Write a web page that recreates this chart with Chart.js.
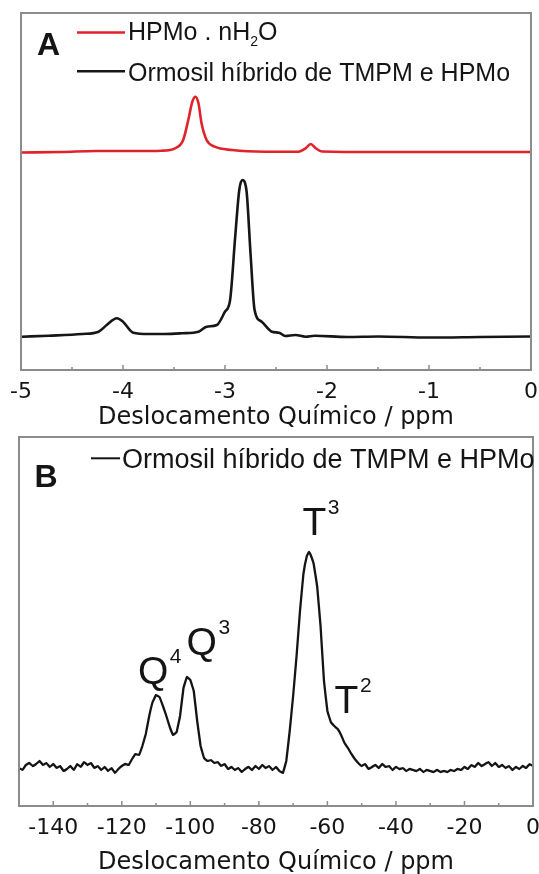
<!DOCTYPE html>
<html><head><meta charset="utf-8">
<script src="https://cdn.jsdelivr.net/npm/chart.js@4.4.1/dist/chart.umd.min.js"></script>
<style>
html,body{margin:0;padding:0;background:#fff;overflow:hidden;width:539px;height:874px;}
#c1{position:absolute;left:0;top:0;}
#c2{position:absolute;left:0;top:434px;}
</style></head><body>
<canvas id="c1" width="539" height="434"></canvas>
<canvas id="c2" width="539" height="444"></canvas>
<script>
// ---------- Panel A data (1H NMR, ppm vs arbitrary intensity) ----------
const redShift = [-5.00,-4.60,-4.27,-3.90,-3.62,-3.49,-3.41,-3.36,-3.32,-3.29,-3.26,-3.23,-3.18,-3.10,-2.93,-2.61,-2.28,-2.21,-2.16,-2.11,-2.05,-1.50,-1.00,-0.50,0.00];
const redIntensity = [217.5,218,219,219,219.3,221.7,230,250,268.3,273.3,266.7,246.7,230,223.3,220,218.3,218.3,221.7,226,221.7,218.5,218,218,218,218];
const blackShift = [-4.99,-4.73,-4.40,-4.24,-4.16,-4.06,-4.00,-3.90,-3.75,-3.59,-3.42,-3.26,-3.18,-3.08,-3.00,-2.95,-2.90,-2.86,-2.83,-2.79,-2.75,-2.71,-2.64,-2.54,-2.47,-2.41,-2.31,-2.21,-2.12,-1.80,-1.50,-1.00,-0.50,0.00];
const blackIntensity = [33.3,34.3,36,38.3,45,51.7,48.3,37.3,36,36,36.7,38.3,43.3,45,58.3,70,133.3,180,190,180,117,60,48.3,38.3,37.3,34,35,33.3,34.3,33,33.5,32.5,33,33.5];
const topTicks = [-5,-4,-3,-2,-1,0];
const topMinor = [-4.5,-3.5,-2.5,-1.5,-0.5];

// ---------- Panel B data (29Si NMR) ----------
const siShift = [-150,-149,-148,-147,-146,-145,-144,-143,-142,-141,-140,-139,-138,-137,-136,-135,-134,-133,-132,-131,-130,-129,-128,-127,-126,-125,-124,-123,-122,-121,-120,-119,-118,-117,-116,-115,-114,-113,-112,-111,-110,-109,-108,-107,-106,-105,-104,-103,-102,-101,-100,-99,-98,-97,-96,-95,-94,-93,-92,-91,-90,-89,-88,-87,-86,-85,-84,-83,-82,-81,-80,-79,-78,-77,-76,-75,-74,-73,-72,-71,-70,-69,-68,-67,-66,-65.4,-65,-64,-63,-62,-61,-60,-59,-58,-57,-56,-55,-54,-53,-52,-51,-50,-49,-48,-47,-46,-45,-44,-43,-42,-41,-40,-39,-38,-37,-36,-35,-34,-33,-32,-31,-30,-29,-28,-27,-26,-25,-24,-23,-22,-21,-20,-19,-18,-17,-16,-15,-14,-13,-12,-11,-10,-9,-8,-7,-6,-5,-4,-3,-2,-1,0];
const siIntensity = [38,36,41,43,40,42,45,41,43,39,42,38,40,35,37,40,36,42,39,44,41,43,38,40,36,39,35,38,33,37,40,42,41,47,52,51,60,72,90,104,111,109,100,90,79,71,74,90,118,129,126,115,85,60,48,45,46,43,44,40,42,37,39,36,38,34,37,39,36,40,37,41,38,40,36,39,35,33,45,75,110,150,195,232,250,254,252,242,220,180,125,95,84,80,77,71,63,58,52,47,43,40,42,37,39,41,38,42,39,40,36,39,37,38,35,37,36,35,37,34,36,35,34,36,34,35,34,36,35,37,36,39,37,41,39,43,40,42,44,40,43,39,41,38,40,36,39,37,40,38,42,40];
const botTicks = [-140,-120,-100,-80,-60,-40,-20,0];
const botMinor = [-130,-110,-90,-70,-50,-30,-10];

// Peak annotations (anchored in data space: shift, intensity)
const annoMain = ['Q','Q','T','T'];
const annoSup = ['4','3','3','2'];
const annoShift = [-115.3,-101.1,-67.3,-57.9];
const annoLevel = [122,151,271,93];

const AXIS_TITLE = 'Deslocamento Químico / ppm';
const TEXT = '#151515';
const FRAME = '#8c8c8c';
const SANS = '"Liberation Sans", Arial, sans-serif';

function pts(xs, ys){ return xs.map((x,i)=>({x:x, y:ys[i]})); }

function framePlugin(major, minor){
  return {
    id:'frameTicks',
    afterDatasetsDraw(chart){
      const {ctx, chartArea:a, scales:{x}} = chart;
      ctx.save();
      ctx.strokeStyle = FRAME; ctx.lineWidth = 2;
      ctx.strokeRect(a.left, a.top, a.right-a.left, a.bottom-a.top);
      ctx.lineWidth = 1.5;
      ctx.beginPath();
      major.forEach(v=>{const p=x.getPixelForValue(v); ctx.moveTo(p,a.bottom); ctx.lineTo(p,a.bottom-5);});
      minor.forEach(v=>{const p=x.getPixelForValue(v); ctx.moveTo(p,a.bottom); ctx.lineTo(p,a.bottom-3);});
      ctx.stroke();
      ctx.restore();
    }
  };
}

function xAxis(min, max, ticks, height, titlePad){
  return {
    type:'linear', min:min, max:max,
    grid:{display:false, drawTicks:false},
    border:{display:false},
    afterBuildTicks(s){ s.ticks = ticks.map(v=>({value:v})); },
    afterFit(s){ s.height = height; s.paddingLeft = 0; s.paddingRight = 0; },
    ticks:{autoSkip:false, maxRotation:0, padding:9, color:TEXT,
      font:{family:'"DejaVu Sans", sans-serif', size:22},
      callback:(v)=>String(v)},
    title:{display:true, text:AXIS_TITLE, color:TEXT,
      font:{family:'"DejaVu Sans", sans-serif', size:24},
      padding:{top:0,bottom:titlePad}}
  };
}

Chart.defaults.animation = false;
Chart.defaults.plugins.legend.display = false;
Chart.defaults.plugins.tooltip.enabled = false;

// ---------- Panel A ----------
const panelA = {
  id:'panelA',
  afterDraw(chart){
    const {ctx, chartArea:a} = chart;
    const ds = chart.data.datasets;
    ctx.save();
    ctx.fillStyle = TEXT;
    ctx.font = 'bold 32px ' + SANS;
    ctx.textBaseline = 'alphabetic';
    ctx.fillText('A', a.left+16, a.top+41.7);
    ctx.lineWidth = 2.4;
    ctx.strokeStyle = ds[0].borderColor;
    ctx.beginPath(); ctx.moveTo(a.left+56, a.top+19.5); ctx.lineTo(a.left+104, a.top+19.5); ctx.stroke();
    ctx.font = '25px ' + SANS;
    let tx = a.left+107, ty = a.top+27.4;
    const parts = ds[0].label.split('₂');
    ctx.fillText(parts[0], tx, ty); tx += ctx.measureText(parts[0]).width;
    ctx.font = '14px ' + SANS; ctx.fillText('2', tx, ty+6); tx += ctx.measureText('2').width;
    ctx.font = '25px ' + SANS; ctx.fillText(parts[1], tx, ty);
    ctx.strokeStyle = ds[1].borderColor;
    ctx.beginPath(); ctx.moveTo(a.left+56, a.top+58.2); ctx.lineTo(a.left+104, a.top+58.2); ctx.stroke();
    ctx.fillText(ds[1].label, a.left+107, a.top+67.5);
    ctx.restore();
  }
};

new Chart(document.getElementById('c1'), {
  type:'line',
  data:{datasets:[
    {label:'HPMo . nH₂O', data:pts(redShift, redIntensity), borderColor:'#e0232b', borderWidth:2.6, pointRadius:0, cubicInterpolationMode:'monotone'},
    {label:'Ormosil híbrido de TMPM e HPMo', data:pts(blackShift, blackIntensity), borderColor:'#161616', borderWidth:2.6, pointRadius:0, cubicInterpolationMode:'monotone'}
  ]},
  options:{
    responsive:false, devicePixelRatio:1,
    layout:{padding:{top:13, left:21, right:8, bottom:0}},
    scales:{
      x: xAxis(-5, 0, topTicks, 64, 1.6),
      y: {type:'linear', min:0, max:357, display:false}
    }
  },
  plugins:[framePlugin(topTicks, topMinor), panelA]
});

// ---------- Panel B ----------
const panelB = {
  id:'panelB',
  afterDraw(chart){
    const {ctx, chartArea:a, scales:{x,y}} = chart;
    const ds = chart.data.datasets;
    ctx.save();
    ctx.fillStyle = TEXT;
    ctx.textBaseline = 'alphabetic';
    ctx.font = 'bold 32px ' + SANS;
    ctx.fillText('B', a.left+15.4, a.top+49.7);
    ctx.strokeStyle = ds[0].borderColor; ctx.lineWidth = 2;
    ctx.beginPath(); ctx.moveTo(a.left+72, a.top+21.3); ctx.lineTo(a.left+101, a.top+21.3); ctx.stroke();
    ctx.font = '27px ' + SANS;
    ctx.fillText(ds[0].label, a.left+103, a.top+31.3);
    annoMain.forEach((m,i)=>{
      const px = x.getPixelForValue(annoShift[i]);
      const py = y.getPixelForValue(annoLevel[i]);
      ctx.font = '39px ' + SANS;
      ctx.fillText(m, px, py);
      const w = ctx.measureText(m).width;
      ctx.font = '21px ' + SANS;
      ctx.fillText(annoSup[i], px + w + 1.5, py - 21);
    });
    ctx.restore();
  }
};

new Chart(document.getElementById('c2'), {
  type:'line',
  data:{datasets:[
    {label:'Ormosil híbrido de TMPM e HPMo', data:pts(siShift, siIntensity), borderColor:'#141414', borderWidth:2.3, pointRadius:0, tension:0.05}
  ]},
  options:{
    responsive:false, devicePixelRatio:1,
    layout:{padding:{top:3, left:19, right:6, bottom:0}},
    scales:{
      x: xAxis(-150, 0, botTicks, 72, 1),
      y: {type:'linear', min:0, max:369, display:false}
    }
  },
  plugins:[framePlugin(botTicks, botMinor), panelB]
});
</script>
</body></html>
